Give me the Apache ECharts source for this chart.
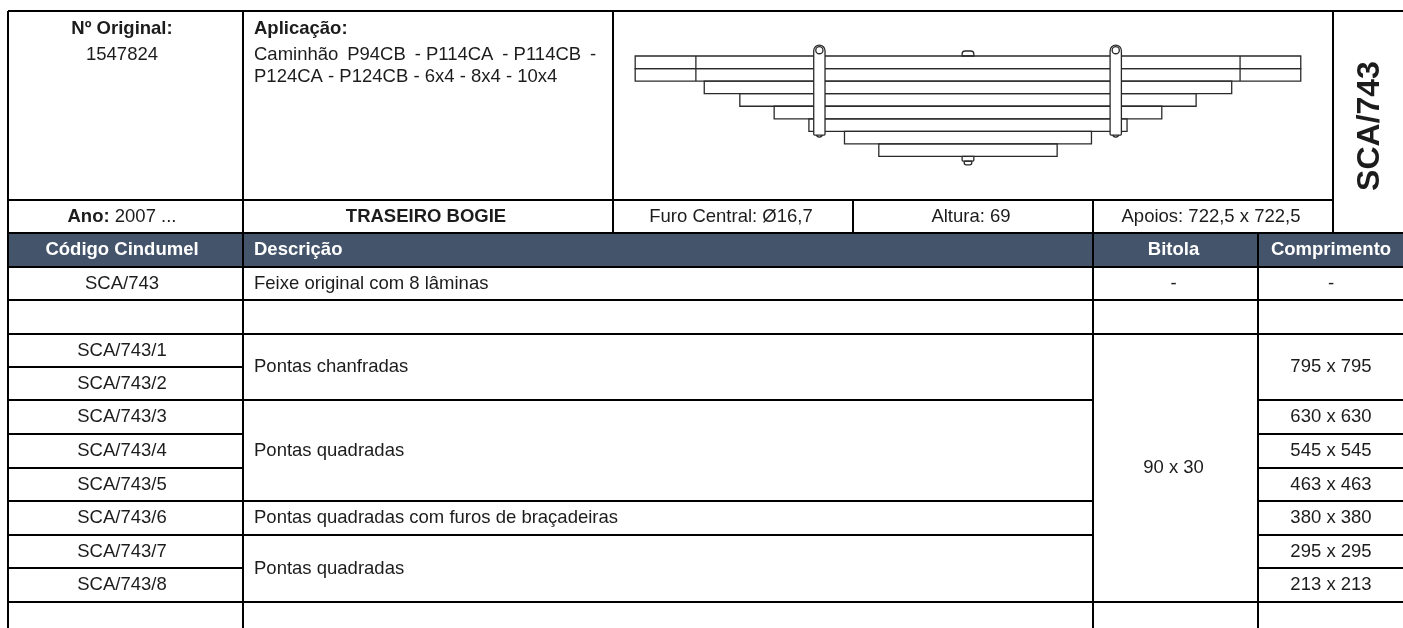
<!DOCTYPE html>
<html>
<head>
<meta charset="utf-8">
<script src="https://cdn.jsdelivr.net/npm/echarts@6/dist/echarts.min.js"></script>
<style>
html,body{margin:0;padding:0;background:#fff;}
#main{width:1403px;height:628px;}
</style>
</head>
<body>
<div id="main"></div>
<script>
// table contents
var headers = ['Código Cindumel', 'Descrição', 'Bitola', 'Comprimento'];
var codes = ['SCA/743', '', 'SCA/743/1', 'SCA/743/2', 'SCA/743/3', 'SCA/743/4', 'SCA/743/5', 'SCA/743/6', 'SCA/743/7', 'SCA/743/8'];
var descriptions = ['Feixe original com 8 lâminas', 'Pontas chanfradas', 'Pontas quadradas', 'Pontas quadradas com furos de braçadeiras', 'Pontas quadradas'];
var descSpans = [[0, 1], [2, 4], [4, 7], [7, 8], [8, 10]];
var lengthTexts = ['795 x 795', '630 x 630', '545 x 545', '463 x 463', '380 x 380', '295 x 295', '213 x 213'];
var lengthSpans = [[2, 4], [4, 5], [5, 6], [6, 7], [7, 8], [8, 9], [9, 10]];
var infoRow = ['Furo Central: Ø16,7', 'Altura: 69', 'Apoios: 722,5 x 722,5'];
// first line is justified in the sheet, hence the thin spaces
var applicationLines = ['Caminhão\u2009 P94CB\u2009 - P114CA\u2009 - P114CB\u2009 -', 'P124CA - P124CB - 6x4 - 8x4 - 10x4'];

// half length of every leaf in mm, leaf thickness 30
var leafLengths = [795, 795, 630, 545, 463, 380, 295, 213];
var leafThickness = 30;
var eyeLength = 650;
var clipPositions = [-355, 353];

// layout of the sheet in px
var rowY = [267, 300, 334, 367, 400, 434, 468, 501, 535, 568, 602];
var topY = 11, infoY = 200, headY = 233, pageH = 628;
var col0 = 122, col1 = 254, bitolaX = 1173.5, compX = 1331;

var rules = [
    [8, topY, 8, pageH], [243, topY, 243, pageH], [613, topY, 613, headY], [853, infoY, 853, headY],
    [1093, infoY, 1093, pageH], [1333, topY, 1333, headY], [1258, headY, 1258, pageH],
    [8, topY, 1403, topY], [8, infoY, 1333, infoY], [8, headY, 1403, headY]
];
rowY.forEach(function (y, i) {
    if (i < 3 || i == 10) {
        rules.push([8, y, 1403, y]);
    } else if (i == 4 || i == 7 || i == 8) {
        rules.push([8, y, 1093, y]);
        rules.push([1258, y, 1403, y]);
    } else if (i == 3) {
        rules.push([8, y, 243, y]);
    } else {
        rules.push([8, y, 243, y]);
        rules.push([1258, y, 1403, y]);
    }
});

var FS = 18.5;
var ink = '#1c1c1c';
var labels = [];
function addLabel(x, y, text, align, weight, color, size, rotation) {
    labels.push({x: x, y: y, text: text, align: align, weight: weight || 'normal', color: color || ink, size: size || FS, rotation: rotation || 0});
}
function mid(a, b) { return (a + b) / 2; }

addLabel(col0, 29, 'Nº Original:', 'center', 'bold');
addLabel(col0, 55, '1547824', 'center');
addLabel(col1, 29, 'Aplicação:', 'left', 'bold');
addLabel(col1, 55, applicationLines[0], 'left');
addLabel(col1, 77, applicationLines[1], 'left');
addLabel(1370, 126, 'SCA/743', 'center', 'bold', ink, 32, Math.PI / 2);

// info row
labels.push({x: col0, y: mid(infoY, headY), rich: true, text: '{b|Ano:} 2007 ...', align: 'center', weight: 'normal', color: ink, size: FS, rotation: 0});
addLabel(426, mid(infoY, headY), 'TRASEIRO BOGIE', 'center', 'bold');
addLabel(731, mid(infoY, headY), infoRow[0], 'center');
addLabel(971, mid(infoY, headY), infoRow[1], 'center');
addLabel(1211, mid(infoY, headY), infoRow[2], 'center');

// header row
addLabel(col0, mid(headY, rowY[0]), headers[0], 'center', 'bold', '#fff');
addLabel(col1, mid(headY, rowY[0]), headers[1], 'left', 'bold', '#fff');
addLabel(bitolaX, mid(headY, rowY[0]), headers[2], 'center', 'bold', '#fff');
addLabel(compX, mid(headY, rowY[0]), headers[3], 'center', 'bold', '#fff');

// body
codes.forEach(function (c, i) {
    if (c) addLabel(col0, mid(rowY[i], rowY[i + 1]), c, 'center');
});
descriptions.forEach(function (d, i) {
    addLabel(col1, mid(rowY[descSpans[i][0]], rowY[descSpans[i][1]]), d, 'left');
});
addLabel(bitolaX, mid(rowY[0], rowY[1]), '-', 'center');
addLabel(compX, mid(rowY[0], rowY[1]), '-', 'center');
addLabel(bitolaX, mid(rowY[2], rowY[10]), '90 x 30', 'center');
lengthTexts.forEach(function (t, i) {
    addLabel(compX, mid(rowY[lengthSpans[i][0]], rowY[lengthSpans[i][1]]), t, 'center');
});

var stroke = {stroke: '#2a2a2a', lineWidth: 1.3, fill: null};

function renderRule(params, api) {
    var a = api.coord([api.value(0), api.value(1)]);
    var b = api.coord([api.value(2), api.value(3)]);
    return {type: 'line', shape: {x1: a[0], y1: a[1], x2: b[0], y2: b[1]}, style: {stroke: '#000', lineWidth: 2}};
}

function renderLabel(params, api) {
    var l = labels[params.dataIndex];
    var p = api.coord([api.value(0), api.value(1)]);
    var style = {
        x: 0, y: 0, text: l.text, align: l.align, verticalAlign: 'middle', fill: l.color,
        font: l.weight + ' ' + l.size + 'px "Liberation Sans", Arial, sans-serif'
    };
    if (l.rich) {
        style.rich = {b: {fontWeight: 'bold', fontSize: l.size, fontFamily: '"Liberation Sans"', fill: l.color}};
    }
    return {type: 'text', x: p[0], y: p[1], rotation: l.rotation, style: style};
}

function renderLeaf(params, api) {
    var half = api.value(0);
    var top = params.dataIndex * leafThickness;
    var a = api.coord([-half, top]);
    var b = api.coord([half, top + leafThickness]);
    var kids = [{type: 'rect', shape: {x: a[0], y: a[1], width: b[0] - a[0], height: b[1] - a[1]}, style: stroke}];
    if (params.dataIndex < 2) {
        [-eyeLength, eyeLength].forEach(function (v) {
            var t = api.coord([v, top]);
            var u = api.coord([v, top + leafThickness]);
            kids.push({type: 'line', shape: {x1: t[0], y1: t[1], x2: u[0], y2: u[1]}, style: stroke});
        });
    }
    return {type: 'group', children: kids};
}

function renderClip(params, api) {
    var c = api.value(0);
    var a = api.coord([c - 13.5, -26]);
    var b = api.coord([c + 13.5, 189]);
    var eye = api.coord([c, -14]);
    var nub = api.coord([c, 189]);
    var w = b[0] - a[0];
    return {type: 'group', children: [
        {type: 'circle', shape: {cx: nub[0], cy: nub[1] - 1, r: 3}, style: stroke},
        {type: 'rect', shape: {x: a[0], y: a[1], width: w, height: b[1] - a[1], r: [w / 2, w / 2, 1, 1]},
            style: {stroke: '#2a2a2a', lineWidth: 1.3, fill: '#fff'}},
        {type: 'circle', shape: {cx: eye[0], cy: eye[1], r: 3.6}, style: stroke}
    ]};
}

function renderBolt(params, api) {
    var totalH = leafLengths.length * leafThickness;
    var a = api.coord([-14, -12]);
    var b = api.coord([14, 0]);
    var c = api.coord([-14, totalH]);
    var d = api.coord([14, totalH + 20]);
    var e = api.coord([-9, totalH + 20]);
    var f = api.coord([9, totalH + 11]);
    return {type: 'group', children: [
        {type: 'rect', shape: {x: a[0], y: a[1], width: b[0] - a[0], height: b[1] - a[1], r: [3, 3, 0, 0]}, style: stroke},
        {type: 'rect', shape: {x: c[0], y: c[1], width: d[0] - c[0], height: f[1] - c[1] , r: [0, 0, 1, 1]}, style: stroke},
        {type: 'rect', shape: {x: e[0], y: f[1], width: f[0] - e[0], height: d[1] - f[1], r: [0, 0, 2, 2]}, style: stroke}
    ]};
}

var myChart = echarts.init(document.getElementById('main'));
var option = {
    animation: false,
    backgroundColor: '#fff',
    grid: [
        {left: 0, top: 0, width: 1403, height: 628},
        {left: 613, top: 11, width: 720, height: 189}
    ],
    xAxis: [
        {type: 'value', gridIndex: 0, min: 0, max: 1403, show: false},
        {type: 'value', gridIndex: 1, min: -848, max: 872, show: false}
    ],
    yAxis: [
        {type: 'value', gridIndex: 0, min: 0, max: 628, inverse: true, show: false},
        {type: 'value', gridIndex: 1, min: -107.5, max: 344, inverse: true, show: false}
    ],
    series: [
        {
            type: 'custom', xAxisIndex: 0, yAxisIndex: 0, silent: true, z: 1,
            renderItem: function (params, api) {
                var a = api.coord([api.value(0), api.value(1)]);
                var b = api.coord([api.value(2), api.value(3)]);
                return {type: 'rect', shape: {x: a[0], y: a[1], width: b[0] - a[0], height: b[1] - a[1]}, style: {fill: '#44546a'}};
            },
            data: [[8, headY, 1403, rowY[0]]]
        },
        {type: 'custom', xAxisIndex: 0, yAxisIndex: 0, silent: true, z: 2, renderItem: renderRule, data: rules},
        {type: 'custom', xAxisIndex: 1, yAxisIndex: 1, silent: true, z: 3, renderItem: renderBolt, data: [[0]]},
        {type: 'custom', xAxisIndex: 1, yAxisIndex: 1, silent: true, z: 3, renderItem: renderLeaf, data: leafLengths.map(function (v) { return [v]; })},
        {type: 'custom', xAxisIndex: 1, yAxisIndex: 1, silent: true, z: 4, renderItem: renderClip, data: clipPositions.map(function (v) { return [v]; })},
        {type: 'custom', xAxisIndex: 0, yAxisIndex: 0, silent: true, z: 5, renderItem: renderLabel, data: labels.map(function (l) { return [l.x, l.y]; })}
    ]
};
myChart.setOption(option);
</script>
</body>
</html>
